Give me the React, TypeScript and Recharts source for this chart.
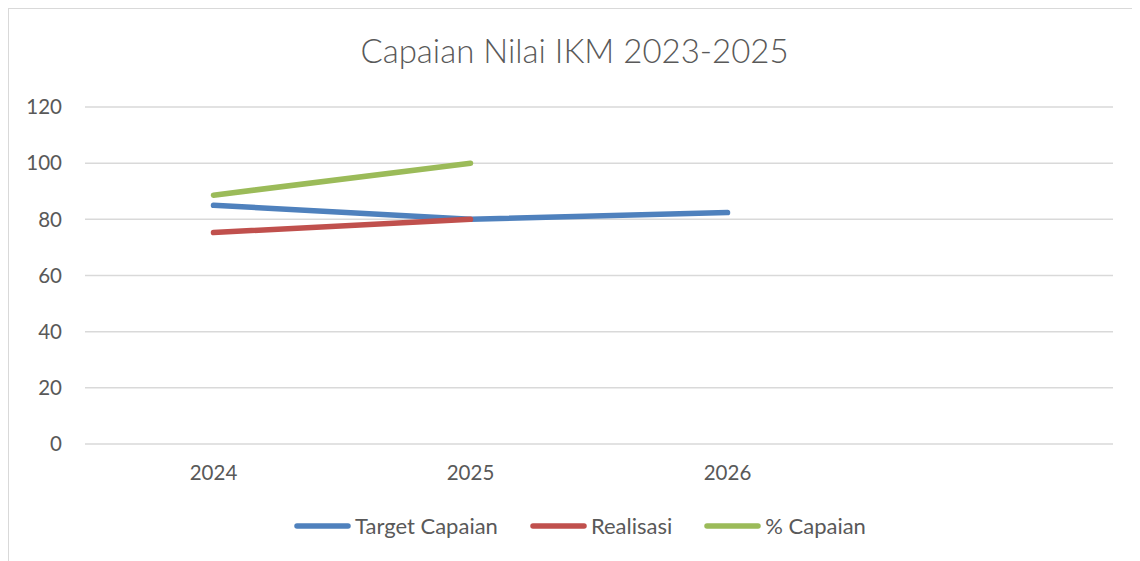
import React from "react";
import { LineChart, Line, XAxis, YAxis, CartesianGrid } from "recharts";

const categories = ["2024", "2025", "2026", ""];
const targetCapaian = [85, 80, 82.4, null];
const realisasi = [75.3, 80, null, null];
const persenCapaian = [88.6, 100, null, null];
const yTicks = [0, 20, 40, 60, 80, 100, 120];
const title = "Capaian Nilai IKM 2023-2025";

const seriesInfo = [
  { key: "target", name: "Target Capaian", color: "#4f81bd" },
  { key: "realisasi", name: "Realisasi", color: "#c0504d" },
  { key: "capaian", name: "% Capaian", color: "#9bbb59" },
];

const data = categories.map((c, i) => ({
  cat: c,
  target: targetCapaian[i],
  realisasi: realisasi[i],
  capaian: persenCapaian[i],
}));

const FONT = "Lato, 'Open Sans', sans-serif";
const TEXT = "#595959";

const LegendContent = () => (
  <div style={{ display: "flex", alignItems: "center", fontFamily: FONT, fontSize: 22, color: TEXT, whiteSpace: "nowrap" }}>
    {seriesInfo.map((s, i) => (
      <div key={s.key} style={{ display: "flex", alignItems: "center", marginLeft: i === 0 ? 0 : 32 }}>
        <svg width={57} height={8} style={{ marginRight: 4 }}>
          <line x1={3} y1={4} x2={54} y2={4} stroke={s.color} strokeWidth={5.5} strokeLinecap="round" />
        </svg>
        <span>{s.name}</span>
      </div>
    ))}
  </div>
);

export default function App() {
  return (
    <div
      style={{
        position: "relative",
        width: 1132,
        height: 553,
        borderTop: "1px solid #d9d9d9",
        borderLeft: "1px solid #d9d9d9",
        boxSizing: "border-box",
        background: "#fff",
      }}
    >
      <div
        style={{
          position: "absolute",
          top: 21,
          left: 0,
          width: 1131,
          textAlign: "center",
          fontFamily: FONT,
          fontSize: 33,
          fontWeight: 300,
          color: TEXT,
        }}
      >
        {title}
      </div>
      <LineChart
        width={1131}
        height={552}
        data={data}
        margin={{ top: 98, right: 27, bottom: 77, left: 26 }}
      >
        <CartesianGrid vertical={false} stroke="#d9d9d9" strokeWidth={1.5} />
        <XAxis
          dataKey="cat"
          axisLine={false}
          tickLine={false}
          padding={{ left: 128.5, right: 128.5 }}
          tick={{ fill: TEXT, fontSize: 20.5, fontFamily: FONT }}
          tickMargin={15}
          interval={0}
          height={40}
        />
        <YAxis
          domain={[0, 120]}
          ticks={yTicks}
          axisLine={false}
          tickLine={false}
          width={50}
          tick={{ fill: TEXT, fontSize: 20.5, fontFamily: FONT }}
          tickMargin={17}
        />
        {seriesInfo.map((s) => (
          <Line
            key={s.key}
            dataKey={s.key}
            name={s.name}
            stroke={s.color}
            strokeWidth={5.5}
            strokeLinecap="round"
            dot={false}
            activeDot={false}
            connectNulls={false}
            isAnimationActive={false}
          />
        ))}
      </LineChart>
      <div style={{ position: "absolute", left: 285, top: 503 }}>
        <LegendContent />
      </div>
    </div>
  );
}
